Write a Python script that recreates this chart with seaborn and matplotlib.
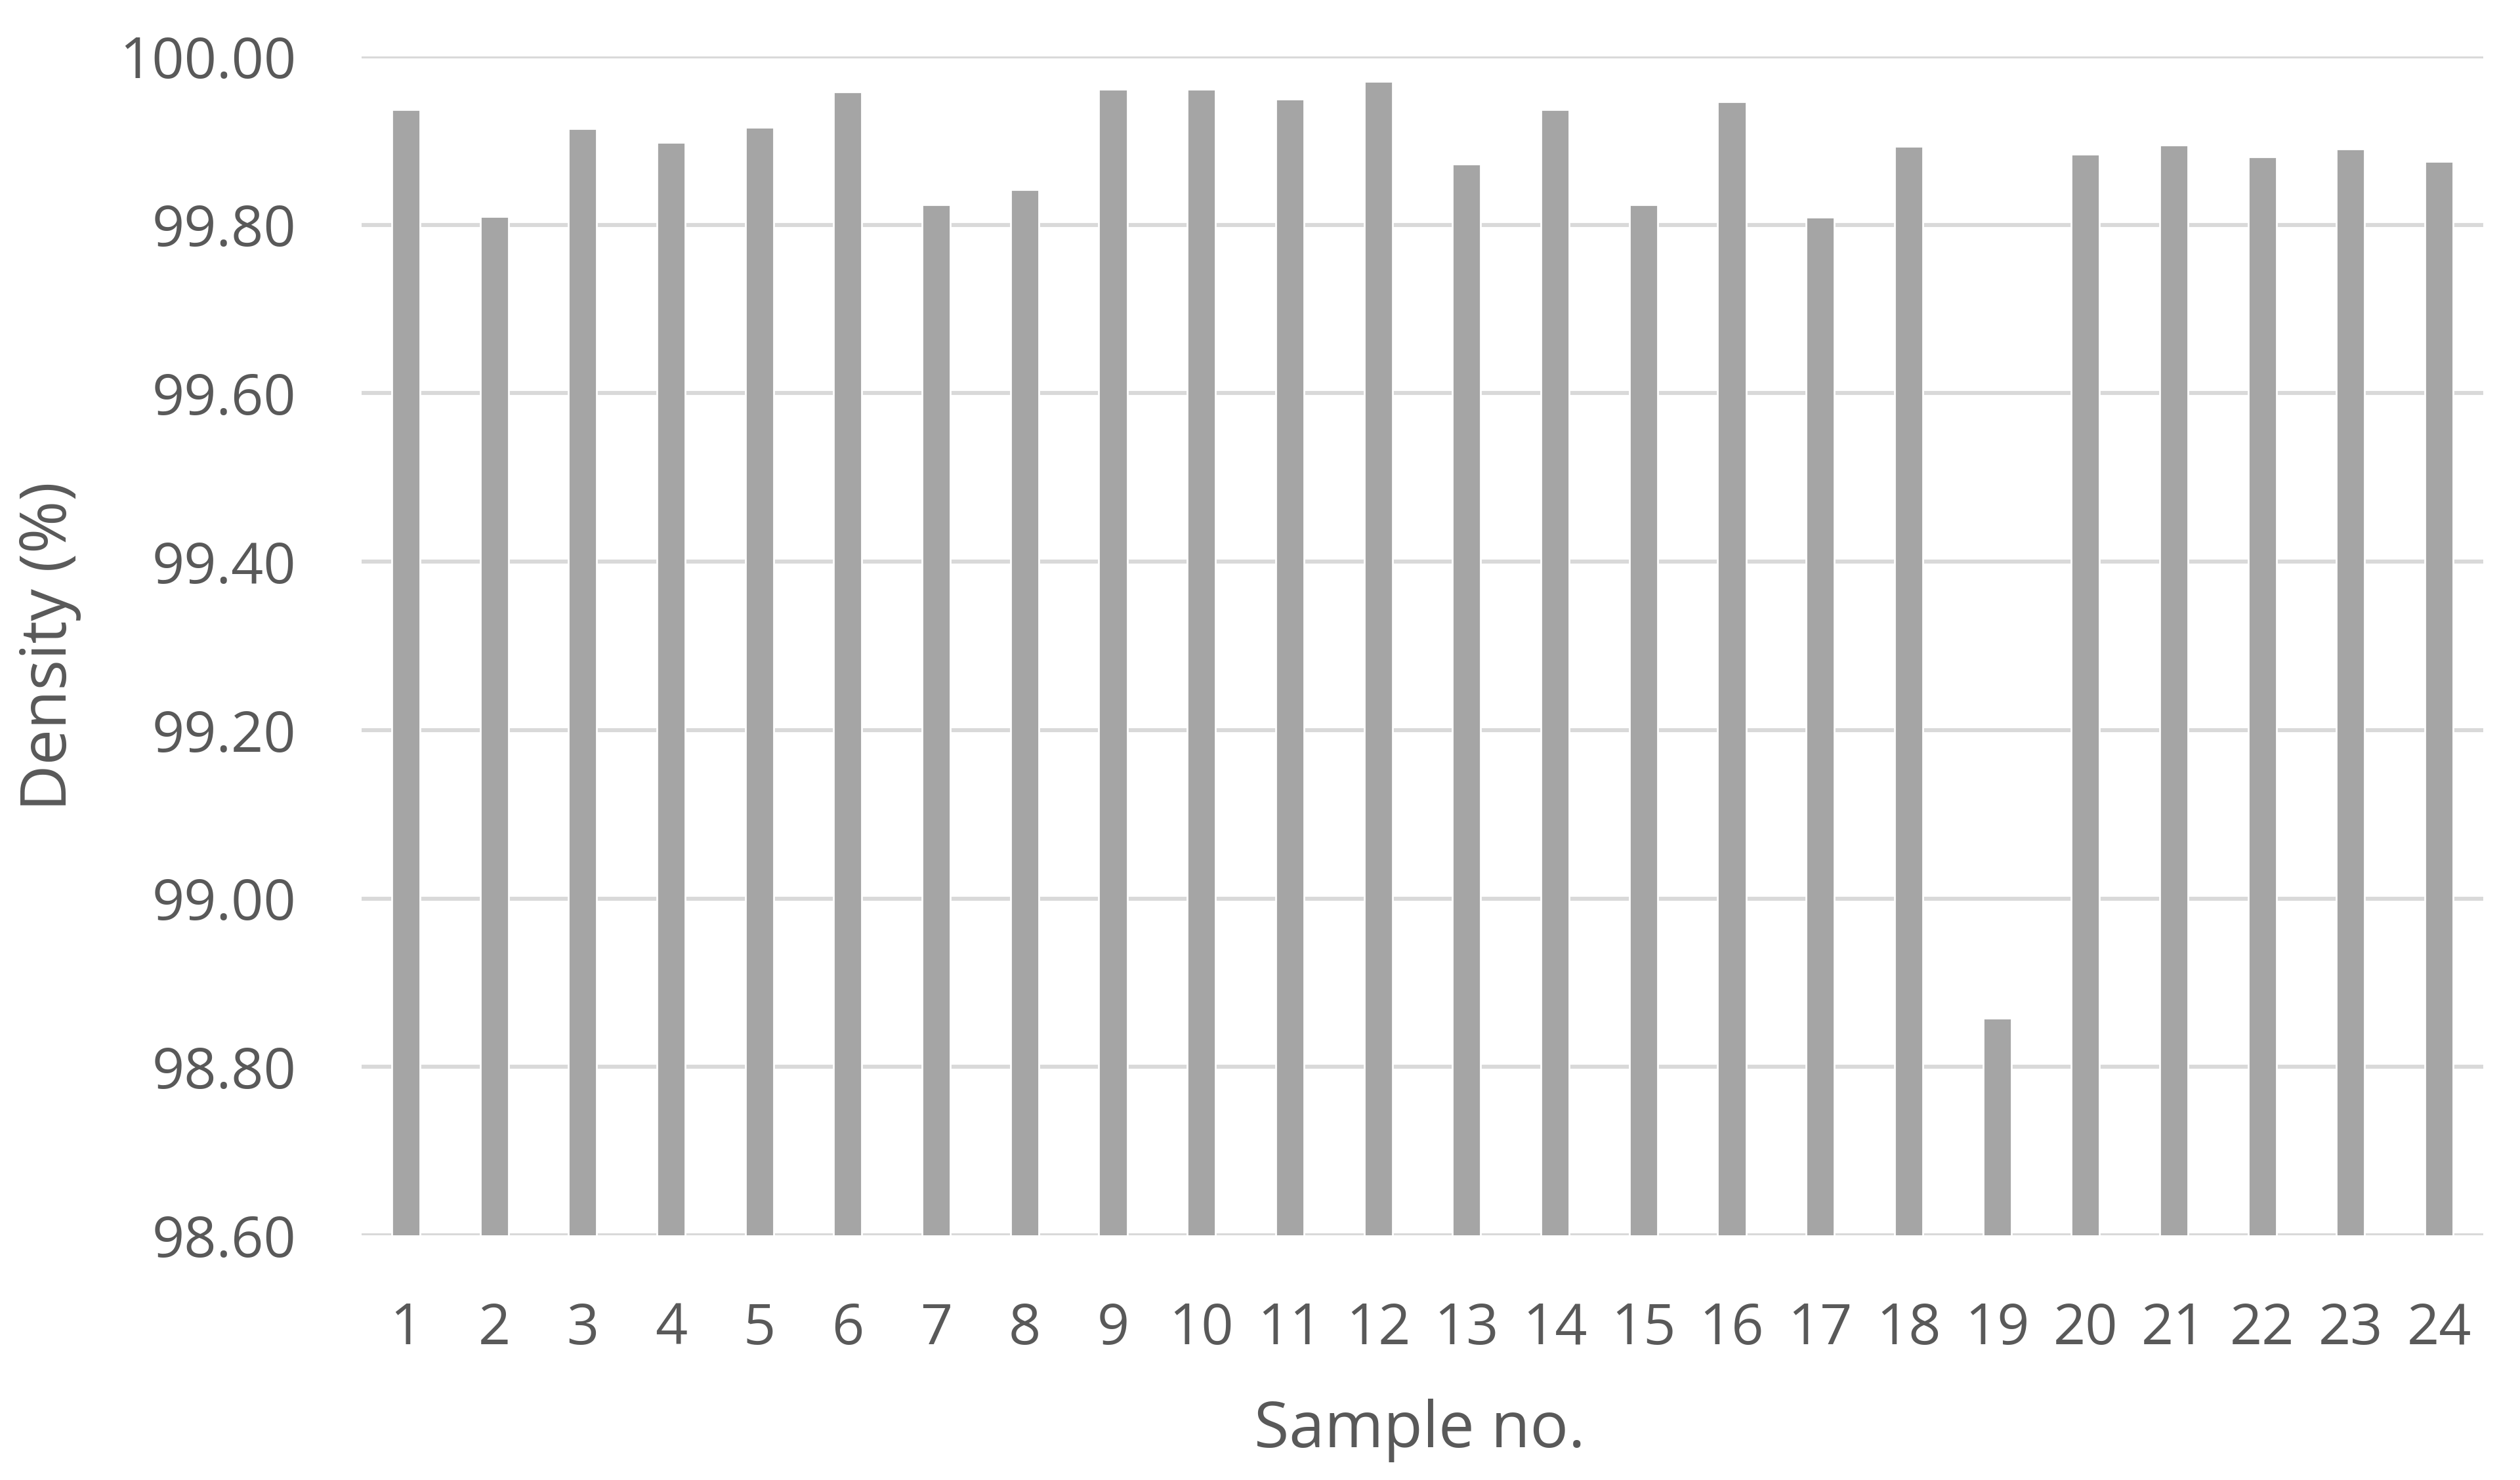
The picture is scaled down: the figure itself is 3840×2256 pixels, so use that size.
import numpy as np
import pandas as pd
import matplotlib
matplotlib.use("Agg")
import matplotlib.pyplot as plt
import seaborn as sns

samples = [str(i) for i in range(1, 25)]
density = [99.937, 99.810, 99.914, 99.898, 99.916, 99.958, 99.824, 99.842,
           99.961, 99.961, 99.949, 99.970, 99.872, 99.937, 99.824, 99.946,
           99.809, 99.893, 98.858, 99.884, 99.895, 99.881, 99.890, 99.875]
yticks = [98.6, 98.8, 99.0, 99.2, 99.4, 99.6, 99.8, 100.0]

df = pd.DataFrame({"sample": samples, "density": density})

sns.set_style("white")
plt.rcParams['font.family'] = ['Open Sans', 'DejaVu Sans']
text_col = "#595959"

fig, ax = plt.subplots(figsize=(19.2, 11.28), dpi=200)
fig.subplots_adjust(left=0.1435, right=0.9854, top=0.9619, bottom=0.1653)

sns.barplot(data=df, x="sample", y="density", color="#A5A5A5", saturation=1,
            width=0.32, ax=ax, zorder=3)

ax.set_ylim(98.6, 100.0)
ax.set_yticks(yticks)
ax.set_yticklabels([f"{t:.2f}" for t in yticks])
ax.yaxis.grid(True, color="#D9D9D9", linewidth=2.2, zorder=0)
ax.set_axisbelow(True)
for s in ax.spines.values():
    s.set_visible(False)
ax.set_xlim(-0.5, 23.5)

ax.tick_params(axis="both", length=0, labelsize=31, labelcolor=text_col)
ax.tick_params(axis="y", pad=36)
ax.tick_params(axis="x", pad=36)

ax.set_xlabel("Sample no.", fontsize=35, color=text_col, va="center")
ax.set_ylabel("Density (%)", fontsize=35, color=text_col, va="center")
ax.xaxis.set_label_coords(0.4986, -0.1653)
ax.yaxis.set_label_coords(-0.1472, 0.5)

plt.savefig("out.png")
